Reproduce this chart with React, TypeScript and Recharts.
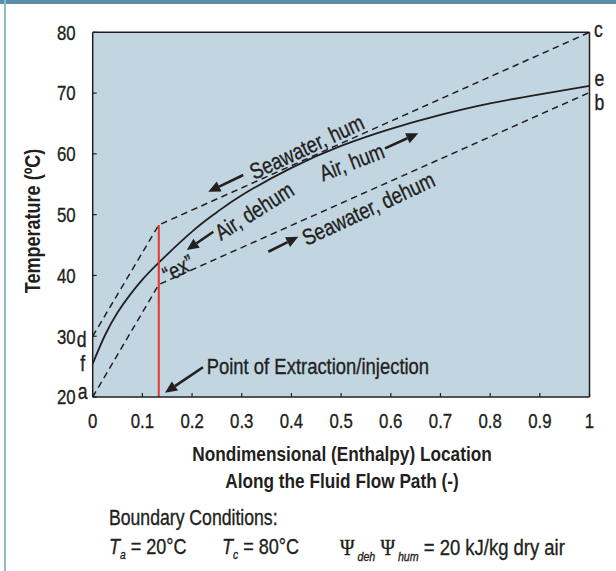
import { LineChart, Line, XAxis, YAxis, ReferenceDot, ReferenceLine, CartesianGrid } from "recharts";

const FONT = '"Liberation Sans", Arial, sans-serif';
const NARROW = 0.82; // condensed look
const INK = "#231f20";
const PLOT_BG = "#c2d6e1";

const xTicks = [0, 0.1, 0.2, 0.3, 0.4, 0.5, 0.6, 0.7, 0.8, 0.9, 1];
const yTicks = [20, 30, 40, 50, 60, 70, 80];

// air temperature (f -> e)
const airX = [0, 0.025, 0.05, 0.075, 0.1, 0.133, 0.2, 0.25, 0.3, 0.4, 0.5, 0.6, 0.7, 0.8, 0.9, 1];
const airT = [25.5, 30.2, 33.9, 36.8, 39.3, 42.1, 47.2, 50.4, 53.2, 57.7, 61.3, 64.1, 66.4, 68.3, 69.8, 71.2];

// seawater in humidifier (d -> c) and dehumidifier (a -> b)
const humX = [0, 0.133, 1];
const humT = [30, 48.3, 80];
const dehX = [0, 0.133, 1];
const dehT = [20, 38.5, 70.1];

// extraction / injection point
const extX = 0.133;
const extT = [20, 48.3];

// end point letters
const letterNames = ["a", "b", "c", "d", "e", "f"];
const letterX = [0, 1, 1, 0, 1, 0];
const letterT = [20, 70.1, 80, 30, 71.2, 25.5];
const letterOffset = [
  [-10, -4],
  [10, 11],
  [9, -2],
  [-11, 4],
  [10, -6],
  [-10, 1],
];

// in-plot labels
const noteText = ["Seawater, hum", "Air, hum", "Air, dehum", "Seawater, dehum", "\u201cex\u201d", "Point of Extraction/injection"];
const noteX = [0.4307, 0.5213, 0.3247, 0.5548, 0.1717, 0.2295];
const noteT = [61.18, 58.71, 50.65, 51.04, 41.22, 25.1];
const noteAngle = [-25, -21, -32, -25, -28, 0];
const noteAnchor = ["middle", "middle", "middle", "middle", "middle", "start"];

// arrows: [from x, from T, to x, to T]
const arrows = [
  [0.3031, 56.52, 0.2327, 53.77],
  [0.5884, 60.91, 0.6554, 63.38],
  [0.2428, 47.19, 0.1892, 44.18],
  [0.3535, 43.9, 0.4139, 46.37],
  [0.222, 24.9, 0.1455, 20.7],
];

const toPoints = (xs: number[], ts: number[]) => xs.map((x, i) => ({ x, t: ts[i] }));
const airData = toPoints(airX, airT);
const humData = toPoints(humX, humT);
const dehData = toPoints(dehX, dehT);

const NarrowText = ({ x, y, anchor, size, dy, weight, rotate = 0, children }: any) => (
  <text
    transform={`translate(${x},${y}) rotate(${rotate}) scale(${NARROW},1)`}
    textAnchor={anchor}
    dy={dy}
    fill={INK}
    stroke={INK}
    strokeWidth={0.35}
    fontSize={size}
    fontWeight={weight}
    fontFamily={FONT}
  >
    {children}
  </text>
);

const arrowShape = (props: any) => {
  const { x1, y1, x2, y2 } = props;
  const ang = Math.atan2(y2 - y1, x2 - x1);
  const len = 12;
  const half = 5.5;
  const bx = x2 - len * Math.cos(ang);
  const by = y2 - len * Math.sin(ang);
  const px = -Math.sin(ang) * half;
  const py = Math.cos(ang) * half;
  return (
    <g>
      <line x1={x1} y1={y1} x2={bx} y2={by} stroke={INK} strokeWidth={2.6} />
      <polygon points={`${x2},${y2} ${bx + px},${by + py} ${bx - px},${by - py}`} fill={INK} />
    </g>
  );
};

const noteShape = (text: string, angle: number, anchor: string) => (props: any) => (
  <NarrowText x={props.cx} y={props.cy} rotate={angle} anchor={anchor} size={22.5} dy="0.36em">
    {text}
  </NarrowText>
);

const letterShape = (text: string, dx: number, dy: number) => (props: any) => (
  <NarrowText x={props.cx + dx} y={props.cy + dy} anchor="middle" size={21.5} dy="0.3em">
    {text}
  </NarrowText>
);

const XTick = (props: any) => (
  <NarrowText x={props.x} y={props.y} anchor="middle" size={20.5} dy="0.71em">
    {String(props.payload.value)}
  </NarrowText>
);

const YTick = (props: any) => (
  <NarrowText x={props.x} y={props.y} anchor="end" size={20.5} dy="0.36em">
    {String(props.payload.value)}
  </NarrowText>
);

const narrowSpan = { transform: `scaleX(${NARROW})`, transformOrigin: "left", display: "inline-block", WebkitTextStroke: "0.35px " + INK };

export default function App() {
  return (
    <div style={{ position: "absolute", left: 0, top: 0, width: 616, height: 571, background: "#fff", fontFamily: FONT, color: INK }}>
      <div style={{ position: "absolute", left: 0, top: 0, width: 616, height: 4, background: "#5a8ea7" }} />
      <div style={{ position: "absolute", left: 4, top: 0, width: 2, height: 571, background: "#8dbacb" }} />
      <LineChart width={616} height={571} margin={{ top: 32.3, right: 26.5, left: 0, bottom: 144 }}>
        <CartesianGrid horizontal={false} vertical={false} fill={PLOT_BG} />
        <XAxis
          type="number"
          dataKey="x"
          domain={[0, 1]}
          ticks={xTicks}
          height={30}
          tickSize={-4}
          tickMargin={20}
          tick={<XTick />}
          axisLine={{ stroke: INK, strokeWidth: 1.5 }}
          tickLine={{ stroke: INK, strokeWidth: 1.2 }}
          allowDataOverflow
        />
        <YAxis
          type="number"
          domain={[20, 80]}
          ticks={yTicks}
          width={92.7}
          tickSize={-4}
          tickMargin={21}
          tick={<YTick />}
          axisLine={{ stroke: INK, strokeWidth: 1.5 }}
          tickLine={{ stroke: INK, strokeWidth: 1.2 }}
          allowDataOverflow
        />
        <ReferenceLine y={80} stroke={INK} strokeWidth={1.5} ifOverflow="visible" />
        <ReferenceLine x={1} stroke={INK} strokeWidth={1.5} ifOverflow="visible" />
        <Line data={humData} dataKey="t" type="linear" stroke={INK} strokeWidth={1.5} strokeDasharray="6.5 4.5" dot={false} isAnimationActive={false} />
        <Line data={dehData} dataKey="t" type="linear" stroke={INK} strokeWidth={1.5} strokeDasharray="6.5 4.5" dot={false} isAnimationActive={false} />
        <Line data={airData} dataKey="t" type="natural" stroke={INK} strokeWidth={1.8} dot={false} isAnimationActive={false} />
        <ReferenceLine
          segment={[
            { x: extX, y: extT[0] },
            { x: extX, y: extT[1] },
          ]}
          stroke="#e8332a"
          strokeWidth={2}
          ifOverflow="visible"
        />
        {arrows.map((a, i) => (
          <ReferenceLine
            key={`arrow-${i}`}
            segment={[
              { x: a[0], y: a[1] },
              { x: a[2], y: a[3] },
            ]}
            shape={arrowShape}
            ifOverflow="visible"
          />
        ))}
        {noteText.map((t, i) => (
          <ReferenceDot key={`note-${i}`} x={noteX[i]} y={noteT[i]} r={0} ifOverflow="visible" shape={noteShape(t, noteAngle[i], noteAnchor[i])} />
        ))}
        {letterNames.map((t, i) => (
          <ReferenceDot
            key={`letter-${i}`}
            x={letterX[i]}
            y={letterT[i]}
            r={0}
            ifOverflow="visible"
            shape={letterShape(t, letterOffset[i][0], letterOffset[i][1])}
          />
        ))}
      </LineChart>
      <div
        style={{
          position: "absolute",
          left: 33,
          top: 221,
          transform: `translate(-50%, -50%) rotate(-90deg) scaleX(${NARROW})`,
          whiteSpace: "nowrap",
          fontWeight: "bold",
          fontSize: 22,
        }}
      >
        Temperature (ºC)
      </div>
      <div
        style={{
          position: "absolute",
          left: 342,
          top: 439.5,
          transform: `translateX(-50%) scaleX(${NARROW})`,
          whiteSpace: "nowrap",
          textAlign: "center",
          fontWeight: "bold",
          fontSize: 21,
          lineHeight: "27px",
        }}
      >
        Nondimensional (Enthalpy) Location
        <br />
        Along the Fluid Flow Path (-)
      </div>
      <div style={{ position: "absolute", left: 109, top: 506, fontSize: 21.5, lineHeight: "24px", whiteSpace: "nowrap" }}>
        <span style={narrowSpan}>Boundary Conditions:</span>
      </div>
      <div style={{ position: "absolute", left: 109, top: 534.5, fontSize: 22, lineHeight: "24px", whiteSpace: "nowrap" }}>
        <span style={narrowSpan}>
          <i>T</i>
          <sub style={{ fontSize: 12.5, fontStyle: "italic" }}>a</sub> = 20°C
        </span>
      </div>
      <div style={{ position: "absolute", left: 222, top: 534.5, fontSize: 22, lineHeight: "24px", whiteSpace: "nowrap" }}>
        <span style={narrowSpan}>
          <i>T</i>
          <sub style={{ fontSize: 12.5, fontStyle: "italic" }}>c</sub> = 80°C
        </span>
      </div>
      <div style={{ position: "absolute", left: 340, top: 534.5, fontSize: 22.5, lineHeight: "24px", whiteSpace: "nowrap" }}>
        <span style={narrowSpan}>
          <span style={{ fontFamily: '"Liberation Serif", serif', fontSize: 24 }}>Ψ</span>
          <sub style={{ fontSize: 13, fontStyle: "italic" }}> deh</sub>{" "}
          <span style={{ fontFamily: '"Liberation Serif", serif', fontSize: 24 }}>Ψ</span>
          <sub style={{ fontSize: 13, fontStyle: "italic" }}> hum</sub> = 20 kJ/kg dry air
        </span>
      </div>
    </div>
  );
}
